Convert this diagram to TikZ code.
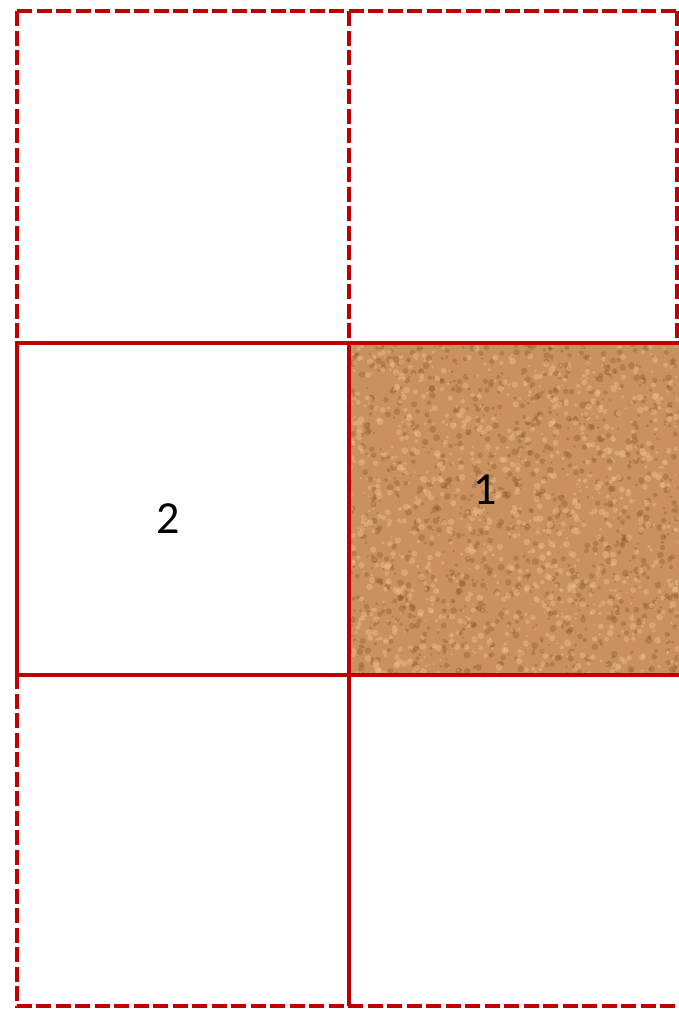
\documentclass[tikz,border=0pt]{standalone}
\usepackage{fontspec}
\setmainfont{Carlito}
\definecolor{GridRed}{HTML}{C00000}
\definecolor{Cork}{HTML}{C8915F}
\definecolor{CorkDark}{HTML}{8A5528}
\definecolor{CorkLight}{HTML}{EDBE8C}
\usetikzlibrary{positioning}

\begin{document}
\begin{tikzpicture}[
    x=1pt, y=-1pt,
    cell/.style={rectangle, draw=GridRed, line width=4.5pt, minimum width=332pt, minimum height=332pt, inner sep=0pt, outer sep=0pt},
    edge/.style={GridRed, line width=4.5pt, dash pattern=on 15pt off 4.5pt},
    num/.style={font=\fontsize{46}{50}\selectfont, text=black},
]
    \useasboundingbox (0,0) rectangle (678,1010);

    % top row and outer frame (dashed)
    \coordinate (tl) at (17,11);
    \coordinate (tm) at (349,11);
    \coordinate (tr) at (677,11);
    \coordinate (mr) at (677,343);
    \coordinate (mm) at (349,343);
    \coordinate (bl) at (17,1006);
    \coordinate (bm) at (349,1006);
    \coordinate (br) at (678,1006);
    \draw[edge] (tl) -- (tr);
    \draw[edge] (tl) -- (bl) -- (br);
    \draw[edge] (tm) -- (mm);
    \draw[edge] (tr) -- (mr);

    % cork cell
    \node[cell, fill=Cork, minimum width=340pt] (one) at (519,509) {};
    \begin{scope}
        \clip (351,345) rectangle (678,673);
        \pgfmathsetseed{42}
        \foreach \i in {1,...,1100} {
            \pgfmathsetmacro{\px}{349+331*rnd}
            \pgfmathsetmacro{\py}{343+332*rnd}
            \pgfmathsetmacro{\pr}{1+2.5*rnd}
            \fill[CorkDark, opacity=0.35] (\px,\py) circle (\pr);
        }
        \foreach \i in {1,...,1100} {
            \pgfmathsetmacro{\px}{349+331*rnd}
            \pgfmathsetmacro{\py}{343+332*rnd}
            \pgfmathsetmacro{\pr}{1+2.5*rnd}
            \fill[CorkLight, opacity=0.45] (\px,\py) circle (\pr);
        }
    \end{scope}
    \draw[GridRed, line width=4.5pt] (one.north west) rectangle (one.south east);

    \node[cell] (two) at (183,509) {};
    \draw[GridRed, line width=4.5pt] (two.south east) -- (bm);

    % labels
    \node[num] (lone) at (485,490) {1};
    \node[num] (ltwo) at (168,519) {2};
\end{tikzpicture}
\end{document}
